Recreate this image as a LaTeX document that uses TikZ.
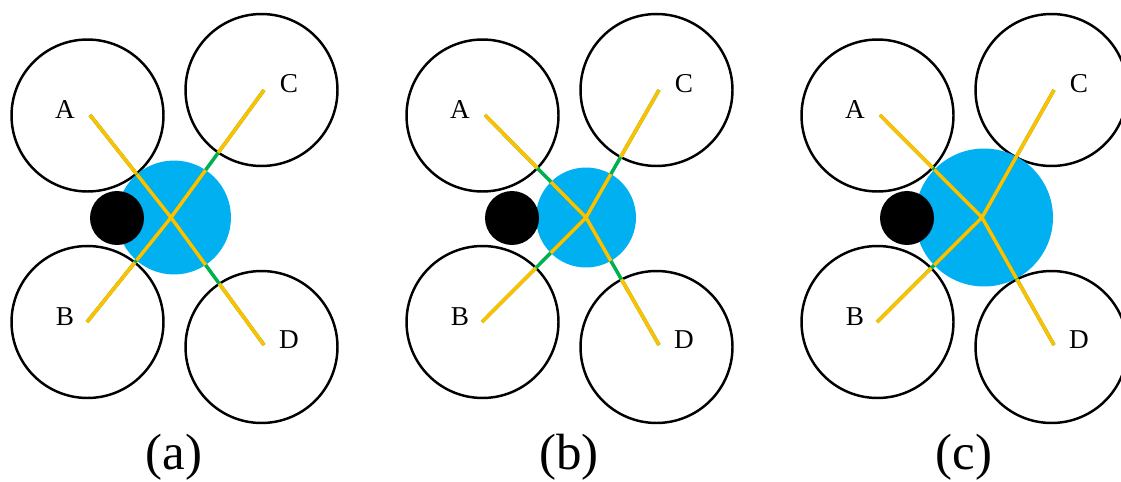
\documentclass[tikz,border=0pt]{standalone}
\usepackage{fontspec}
\setmainfont{Liberation Serif}
\usetikzlibrary{positioning,calc}
\definecolor{skyblue}{HTML}{00B0F0}
\definecolor{gold}{HTML}{FFC000}
\definecolor{leaf}{HTML}{00B050}

\tikzset{
  rotor/.style={circle, draw=black, line width=1.4pt, minimum size=3.04cm, inner sep=0pt},
  weight/.style={circle, fill=black, minimum size=1.08cm, inner sep=0pt},
  arm/.style={line width=2pt, draw=gold},
  bare/.style={line width=2pt, draw=leaf},
  tag/.style={font=\fontsize{15.5}{18}\selectfont, inner sep=0pt},
  panellabel/.style={font=\fontsize{29}{34}\selectfont, inner sep=0pt}
}

\begin{document}
\begin{tikzpicture}[x=0.02cm, y=0.02cm]
  \useasboundingbox (0,0) rectangle (1121,481);
  \clip (0,0) rectangle (1121,481);
  % one panel per body size
  \foreach \dx/\hx/\bx/\br/\sub in {0/171/174/57/a, 395/191/191/50/b, 790/192/194/69/c}{
    \begin{scope}[shift={(\dx,0)}]
      \node[rotor] (A) at (87.5,365.5) {};
      \node[rotor] (C) at (261.5,391) {};
      \node[rotor] (B) at (87.5,159) {};
      \node[rotor] (D) at (261.5,134) {};
      \node[circle, fill=skyblue, inner sep=0pt, minimum size={\br*0.04cm}] (body) at (\bx,263.5) {};
      \node[weight] (w) at (117,263) {};
      \coordinate (hub) at (\hx,263.5);
      \coordinate (endA) at (90,366);
      \coordinate (endC) at (264,391);
      \coordinate (endB) at (87,159);
      \coordinate (endD) at (264,136);
      % arms: green outside, yellow inside body and rotors
      \draw[bare] (hub) -- (endA) (hub) -- (endB) (hub) -- (endC) (hub) -- (endD);
      \begin{scope}
        \clip (body.center) circle[radius={\br*0.02cm}];
        \draw[arm] (hub) -- (endA) (hub) -- (endB) (hub) -- (endC) (hub) -- (endD);
      \end{scope}
      \foreach \r in {A,B,C,D}{
        \begin{scope}
          \clip (\r.center) circle[radius=1.52cm];
          \draw[arm] (hub) -- (end\r);
        \end{scope}
      }
      \node[tag] (labA) at (65,371) {A};
      \node[tag] (labC) at (289,397) {C};
      \node[tag] (labB) at (65,164) {B};
      \node[tag] (labD) at (289,141) {D};
      \node[panellabel] (sub) at (174,24) {(\sub)};
    \end{scope}
  }
\end{tikzpicture}
\end{document}
